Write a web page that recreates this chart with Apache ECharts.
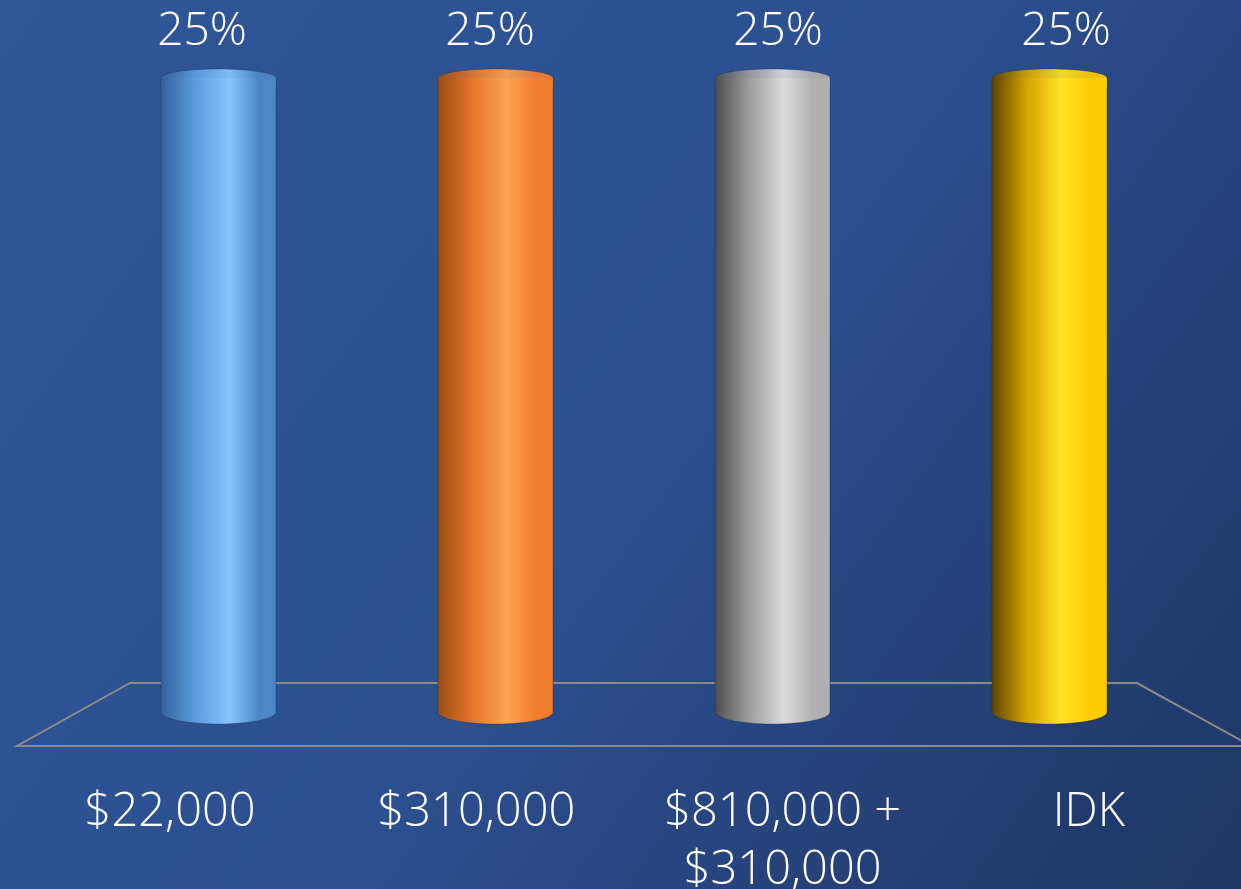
<!DOCTYPE html>
<html>
<head>
<meta charset="utf-8">
<style>
  html, body { margin: 0; padding: 0; width: 1241px; height: 889px; overflow: hidden; }
  #chart { width: 1241px; height: 889px; }
</style>
<script src="https://cdn.jsdelivr.net/npm/echarts@6/dist/echarts.min.js"></script>
</head>
<body>
<div id="chart"></div>
<script>
// Answer shares for each option
const categories = ['$22,000', '$310,000', '$810,000 +\n$310,000', 'IDK'];
const shares = [25, 25, 25, 25];

// Cylinder shading per bar: [left shadow, body, highlight, right side]
const palettes = [
  ['#34609b', '#5a9de0', '#86c6ff', '#4c86c6'],
  ['#9a4c16', '#e5782a', '#ffa352', '#f07e2e'],
  ['#4e4e4e', '#9d9d9d', '#dcdcdc', '#b0b0b0'],
  ['#5e4400', '#d4a300', '#ffe225', '#ffcc00']
];

const FONT = '"Open Sans", "Noto Sans", sans-serif';
const chart = echarts.init(document.getElementById('chart'), null, { renderer: 'canvas' });

function sideGradient(p) {
  return new echarts.graphic.LinearGradient(0, 0, 1, 0, [
    { offset: 0, color: p[0] },
    { offset: 0.3, color: p[1] },
    { offset: 0.6, color: p[2] },
    { offset: 0.85, color: p[3] },
    { offset: 1, color: p[3] }
  ]);
}

function renderFloor(params, api) {
  const cs = params.coordSys;
  const base = api.coord([0, 0])[1];
  const backY = base - 29, frontY = base + 34;
  const backL = cs.x + 50, backR = cs.x + cs.width - 51;
  const frontL = cs.x - 63, frontR = cs.x + cs.width + 63;
  return {
    type: 'polygon',
    silent: true,
    shape: { points: [[backL, backY], [backR, backY], [frontR, frontY], [frontL, frontY]] },
    style: { fill: 'rgba(0,0,0,0)', stroke: '#8a8a8a', lineWidth: 2 }
  };
}

function renderCylinder(params, api) {
  const i = api.value(0);
  const v = api.value(1);
  const cs = params.coordSys;
  const n = categories.length;
  const top = api.coord([i, v]);
  const bottom = api.coord([i, 0]);
  const band = api.size([1, 0])[0];
  const w = band * 0.415;
  const cx = top[0];
  const x0 = cx - w / 2;
  const rx = w / 2;
  const ryTop = 9, ryBot = 12;
  const p = palettes[i % palettes.length];
  const edge = 'rgba(20,30,60,0.3)';

  // value label on the upper plane, category label on the front floor edge
  const topL = cs.x - 22, topW = cs.width + 44;
  const labelX = topL + (i + 0.5) * topW / n;
  const frontL = cs.x - 63, frontW = cs.width + 117;
  const catX = frontL + (i + 0.5) * frontW / n;

  return {
    type: 'group',
    children: [
      {
        type: 'ellipse',
        shape: { cx: cx, cy: bottom[1], rx: rx, ry: ryBot },
        style: { fill: sideGradient(p), stroke: edge, lineWidth: 1 }
      },
      {
        type: 'rect',
        shape: { x: x0, y: top[1], width: w, height: bottom[1] - top[1] },
        style: { fill: sideGradient(p) }
      },
      {
        type: 'line',
        shape: { x1: x0, y1: top[1], x2: x0, y2: bottom[1] },
        style: { stroke: edge, lineWidth: 1 }
      },
      {
        type: 'line',
        shape: { x1: x0 + w, y1: top[1], x2: x0 + w, y2: bottom[1] },
        style: { stroke: edge, lineWidth: 1 }
      },
      {
        type: 'ellipse',
        shape: { cx: cx, cy: top[1], rx: rx, ry: ryTop },
        style: { fill: sideGradient(p), stroke: edge, lineWidth: 1, opacity: 0.92 }
      },
      {
        type: 'rect',
        shape: { x: x0 + 0.5, y: top[1], width: w - 1, height: ryTop + 1 },
        style: { fill: sideGradient(p) }
      },
      {
        type: 'text',
        style: {
          text: v + '%',
          x: labelX, y: top[1] - 46,
          align: 'center', verticalAlign: 'middle',
          fill: '#ffffff', font: '300 46px ' + FONT
        }
      },
      {
        type: 'text',
        style: {
          text: categories[i],
          x: catX, y: bottom[1] + 72,
          align: 'center', verticalAlign: 'top',
          fill: '#ffffff', font: '300 47px ' + FONT,
          lineHeight: 58
        }
      }
    ]
  };
}

chart.setOption({
  backgroundColor: new echarts.graphic.LinearGradient(0, 0, 1, 1, [
    { offset: 0, color: '#2f5698' },
    { offset: 0.5, color: '#2c5090' },
    { offset: 1, color: '#1f3565' }
  ]),
  animation: false,
  grid: { left: 80, right: 53, top: 78, bottom: 177 },
  xAxis: {
    type: 'category',
    data: categories,
    show: false
  },
  yAxis: {
    type: 'value',
    min: 0,
    max: 25,
    show: false
  },
  series: [
    {
      type: 'custom',
      renderItem: renderFloor,
      data: [[0, 0]],
      silent: true,
      z: 1
    },
    {
      type: 'custom',
      renderItem: renderCylinder,
      encode: { x: 0, y: 1 },
      data: shares.map((s, i) => [i, s]),
      z: 2
    }
  ]
});
</script>
</body>
</html>
